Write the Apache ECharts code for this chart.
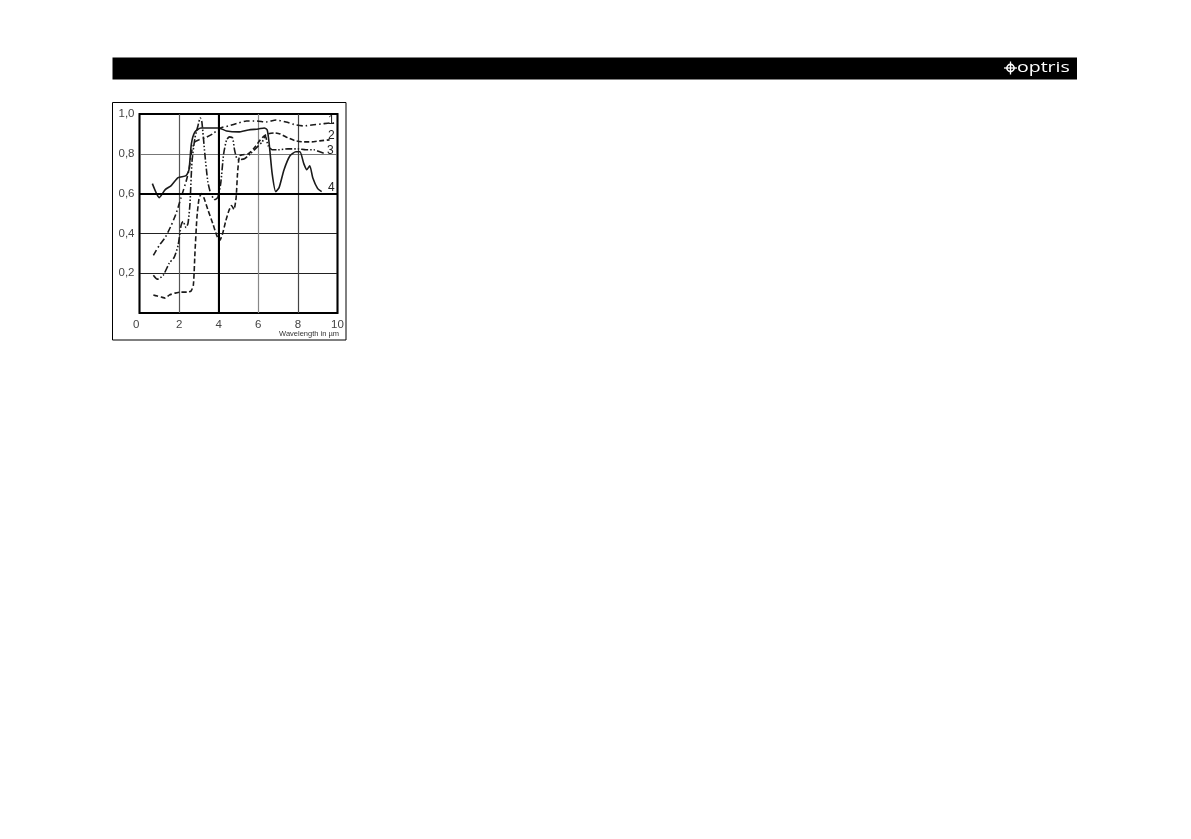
<!DOCTYPE html>
<html>
<head>
<meta charset="utf-8">
<script src="https://cdn.jsdelivr.net/npm/echarts@6/dist/echarts.min.js"></script>
<style>
  html, body { margin: 0; padding: 0; background: #fff; }
  #chartContainer { width: 1191px; height: 839px; }
</style>
</head>
<body>
<div id="chartContainer"></div>
<script>
// wavelength (µm) / emissivity readings, one pair of arrays per curve
var wl1 = [0.7, 1.0, 1.3, 1.6, 1.85, 2.1, 2.35, 2.5, 2.65, 2.8, 3.0, 3.3, 3.7, 4.1, 4.5, 5.0, 5.4, 5.9, 6.4, 6.9, 7.4, 7.9, 8.3, 8.7, 9.2, 9.6, 10.0];
var em1 = [0.29, 0.34, 0.38, 0.44, 0.50, 0.58, 0.66, 0.72, 0.82, 0.86, 0.87, 0.88, 0.90, 0.93, 0.94, 0.955, 0.965, 0.965, 0.96, 0.97, 0.96, 0.945, 0.94, 0.945, 0.95, 0.955, 0.955];

var wl2 = [0.7, 0.9, 1.1, 1.3, 1.5, 1.8, 2.1, 2.4, 2.6, 2.72, 2.8, 2.9, 3.0, 3.12, 3.25, 3.45, 3.7, 3.9, 4.05, 4.2, 4.35, 4.5, 4.65, 4.77, 4.88, 4.95, 5.05, 5.2, 5.5, 5.8, 6.1, 6.3, 6.5, 6.8, 7.1, 7.5, 7.9, 8.3, 8.7, 9.1, 9.6];
var em2 = [0.09, 0.085, 0.08, 0.075, 0.09, 0.10, 0.105, 0.105, 0.11, 0.14, 0.30, 0.48, 0.57, 0.60, 0.58, 0.52, 0.45, 0.39, 0.365, 0.40, 0.46, 0.51, 0.54, 0.52, 0.58, 0.70, 0.79, 0.795, 0.80, 0.83, 0.87, 0.89, 0.90, 0.905, 0.90, 0.88, 0.865, 0.86, 0.86, 0.865, 0.87];

var wl3 = [0.7, 0.9, 1.2, 1.5, 1.75, 1.95, 2.1, 2.2, 2.35, 2.45, 2.55, 2.65, 2.8, 2.95, 3.07, 3.15, 3.3, 3.45, 3.6, 3.8, 3.95, 4.1, 4.25, 4.4, 4.55, 4.7, 4.8, 4.9, 5.0, 5.3, 5.6, 5.9, 6.2, 6.35, 6.5, 6.7, 7.0, 7.5, 8.0, 8.4, 8.8, 9.1, 9.4];
var em3 = [0.19, 0.17, 0.19, 0.25, 0.28, 0.34, 0.44, 0.46, 0.43, 0.45, 0.55, 0.76, 0.88, 0.94, 0.98, 0.96, 0.80, 0.66, 0.60, 0.57, 0.58, 0.65, 0.80, 0.87, 0.885, 0.88, 0.82, 0.78, 0.77, 0.775, 0.80, 0.83, 0.86, 0.89, 0.84, 0.82, 0.82, 0.825, 0.825, 0.82, 0.82, 0.81, 0.80];

var wl4 = [0.65, 1.0, 1.3, 1.6, 1.95, 2.35, 2.5, 2.62, 2.8, 3.1, 3.5, 4.0, 4.4, 5.0, 5.5, 6.0, 6.3, 6.45, 6.55, 6.7, 6.88, 7.05, 7.3, 7.6, 7.9, 8.1, 8.3, 8.45, 8.6, 8.75, 9.0, 9.2];
var em4 = [0.65, 0.58, 0.62, 0.64, 0.68, 0.69, 0.72, 0.85, 0.91, 0.93, 0.93, 0.93, 0.915, 0.91, 0.92, 0.925, 0.93, 0.92, 0.85, 0.70, 0.61, 0.63, 0.72, 0.79, 0.81, 0.81, 0.75, 0.72, 0.74, 0.68, 0.625, 0.61];

var xTicks = [0, 2, 4, 6, 8, 10];
var curveNames = ['1', '2', '3', '4'];
var xAxisTitle = 'Wavelength in µm';

function pairs(xs, ys) {
  return xs.map(function (x, i) { return [x, ys[i]]; });
}

var chart = echarts.init(document.getElementById('chartContainer'));

var lineTypes = [[6, 3, 1.5, 3], [5, 2.5], [7, 2, 1.5, 2, 1.5, 2], 'solid'];
var allData = [pairs(wl1, em1), pairs(wl2, em2), pairs(wl3, em3), pairs(wl4, em4)];

var series = allData.map(function (d, i) {
  return {
    name: curveNames[i],
    type: 'line',
    data: d,
    showSymbol: false,
    smooth: 0.2,
    lineStyle: { color: '#1a1a1a', width: 1.6, type: lineTypes[i] },
    z: 3
  };
});

// the heavier grid lines at 4 µm and 0,6
series[0].markLine = {
  silent: true,
  symbol: 'none',
  label: { show: false },
  lineStyle: { color: '#000', width: 2, type: 'solid' },
  data: [{ xAxis: 4 }, { yAxis: 0.6 }]
};

var labelFont = '12px "Liberation Sans"';

chart.setOption({
  animation: false,
  grid: {
    left: 139.5, right: 853.5, top: 114, bottom: 526,
    show: true, borderColor: '#000', borderWidth: 2
  },
  xAxis: {
    type: 'value', min: 0, max: 10, interval: 2,
    axisLine: { show: false }, axisTick: { show: false },
    splitLine: { lineStyle: { color: ['#000', '#555', '#000', '#888', '#444', '#000'], width: 1.2 } },
    axisLabel: {
      margin: 6, color: '#444', fontFamily: 'Liberation Sans', fontSize: 11.5,
      alignMinLabel: 'right',
      formatter: function (v) { return xTicks.indexOf(v) >= 0 ? String(v) : ''; }
    }
  },
  yAxis: {
    type: 'value', min: 0, max: 1, interval: 0.2,
    axisLine: { show: false }, axisTick: { show: false },
    splitLine: { lineStyle: { color: ['#000', '#222', '#222', '#000', '#777', '#000'], width: 1.2 } },
    axisLabel: {
      margin: 5, color: '#444', fontFamily: 'Liberation Sans', fontSize: 11.5,
      formatter: function (v) { return v === 0 ? '' : v.toFixed(1).replace('.', ','); }
    }
  },
  graphic: [
    // black page header bar
    { type: 'rect', shape: { x: 112.5, y: 57.5, width: 964.5, height: 22 }, style: { fill: '#000' } },
    // logo: crosshair + wordmark
    { type: 'circle', shape: { cx: 1010.5, cy: 68, r: 3.6 }, style: { fill: 'none', stroke: '#fff', lineWidth: 1.6 } },
    { type: 'line', shape: { x1: 1004, y1: 68, x2: 1017, y2: 68 }, style: { stroke: '#fff', lineWidth: 1.3 } },
    { type: 'line', shape: { x1: 1010.5, y1: 61.5, x2: 1010.5, y2: 74.5 }, style: { stroke: '#fff', lineWidth: 1.3 } },
    { type: 'text', x: 1017, y: 67.5, scaleX: 1.3, style: { text: 'optris', fill: '#fff', font: '15px "Open Sans", sans-serif', textVerticalAlign: 'middle' } },
    // frame around the figure
    { type: 'rect', shape: { x: 112.5, y: 102.5, width: 233.5, height: 237.5 }, style: { fill: 'none', stroke: '#000', lineWidth: 1 } },
    // axis title under the x labels
    { type: 'text', x: 339, y: 333.5, style: { text: xAxisTitle, fill: '#333', font: '7.5px "Liberation Sans"', textAlign: 'right', textVerticalAlign: 'middle' } },
    // curve numbers
    { type: 'text', x: 328, y: 121, style: { text: curveNames[0], fill: '#222', font: labelFont, textVerticalAlign: 'middle' } },
    { type: 'text', x: 328, y: 136, style: { text: curveNames[1], fill: '#222', font: labelFont, textVerticalAlign: 'middle' } },
    { type: 'text', x: 327, y: 151, style: { text: curveNames[2], fill: '#222', font: labelFont, textVerticalAlign: 'middle' } },
    { type: 'text', x: 328, y: 188, style: { text: curveNames[3], fill: '#222', font: labelFont, textVerticalAlign: 'middle' } }
  ],
  series: series
});
</script>
</body>
</html>
